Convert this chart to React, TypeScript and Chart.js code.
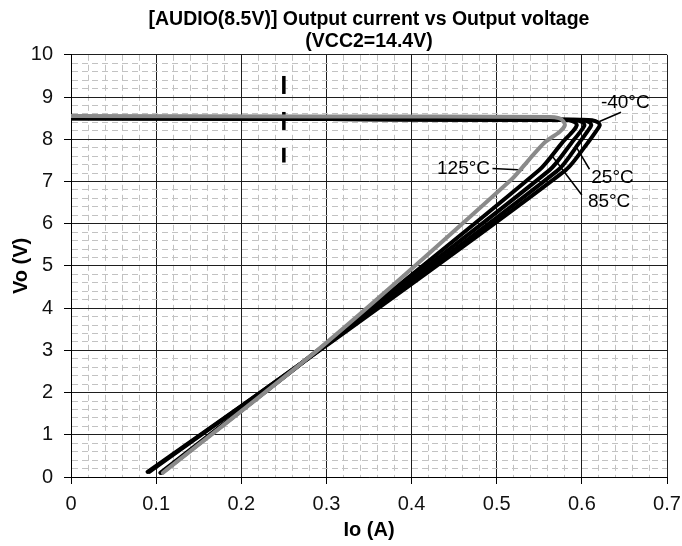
import { useEffect, useRef } from 'react';
import { Chart, registerables } from 'chart.js';

Chart.register(...registerables);

const FONT = '"Liberation Sans", Arial, sans-serif';

const TITLE_LINES = ['[AUDIO(8.5V)] Output current vs Output voltage', '(VCC2=14.4V)'];
const X_TITLE = 'Io (A)';
const Y_TITLE = 'Vo (V)';

const X_MIN = 0;
const X_MAX = 0.7;
const X_MAJOR = 0.1;
const X_MINOR = 0.02;
const Y_MIN = 0;
const Y_MAX = 10;
const Y_MAJOR = 1;
const Y_MINOR = 0.2;

type P = [number, number];

// Io (A), Vo (V)
const curve125: P[] = [
  [0, 8.55], [0.3, 8.54], [0.562, 8.53], [0.573, 8.5], [0.578, 8.43], [0.58, 8.33],
  [0.574, 8.18], [0.556, 7.92], [0.538, 7.52], [0.517, 7.04], [0.297, 3.13], [0.108, 0.1],
];
const curve85: P[] = [
  [0, 8.5], [0.3, 8.48], [0.57, 8.46], [0.585, 8.45], [0.592, 8.4], [0.594, 8.33],
  [0.59, 8.2], [0.577, 7.92], [0.55, 7.27], [0.298, 3.13], [0.107, 0.1],
];
const curveUnlabelled: P[] = [
  [0, 8.5], [0.3, 8.48], [0.58, 8.46], [0.594, 8.45], [0.601, 8.4], [0.603, 8.33],
  [0.599, 8.2], [0.588, 7.92], [0.562, 7.27], [0.299, 3.13], [0.105, 0.1],
];
const curve25: P[] = [
  [0, 8.5], [0.3, 8.48], [0.59, 8.46], [0.602, 8.45], [0.609, 8.4], [0.611, 8.33],
  [0.607, 8.2], [0.597, 7.92], [0.572, 7.27], [0.3, 3.13], [0.092, 0.12],
];
const curveMinus40: P[] = [
  [0, 8.5], [0.3, 8.48], [0.6, 8.46], [0.612, 8.45], [0.619, 8.4], [0.621, 8.33],
  [0.617, 8.2], [0.607, 7.92], [0.581, 7.27], [0.301, 3.13], [0.09, 0.12],
];

// dashed vertical marker
const markerLine: P[] = [[0.25, 9.5], [0.25, 7.45]];

// callouts
const calloutTexts = ['-40°C', '25°C', '85°C', '125°C'];
const calloutPos: P[] = [[0.651, 8.87], [0.636, 7.1], [0.632, 6.53], [0.461, 7.31]];
const leaderMinus40: P[] = [[0.6207, 8.42], [0.646, 8.64]];
const leader25: P[] = [[0.609, 7.29], [0.593, 7.83]];
const leader85: P[] = [[0.6, 6.68], [0.566, 7.58]];
const leader125: P[] = [[0.495, 7.31], [0.531, 7.27]];

const toXY = (pts: P[]) => pts.map(([x, y]) => ({ x, y }));
const isMajor = (v: number, step: number) => Math.abs(v / step - Math.round(v / step)) < 1e-6;

const curveDs = (label: string, pts: P[], color: string) => ({
  label,
  data: toXY(pts),
  borderColor: color,
  borderWidth: 4,
  pointRadius: 0,
  tension: 0.25,
  borderCapStyle: 'round' as const,
  borderJoinStyle: 'round' as const,
  fill: false,
});

const leaderDs = (label: string, pts: P[]) => ({
  label,
  data: toXY(pts),
  borderColor: '#000',
  borderWidth: 1.5,
  pointRadius: 0,
  tension: 0,
  fill: false,
});

const calloutPlugin = {
  id: 'callouts',
  afterDatasetsDraw(chart: any) {
    const { ctx, scales } = chart;
    ctx.save();
    ctx.font = `19px ${FONT}`;
    ctx.fillStyle = '#000';
    ctx.textAlign = 'center';
    ctx.textBaseline = 'middle';
    calloutTexts.forEach((t, i) => {
      const [vx, vy] = calloutPos[i];
      ctx.fillText(t, scales.x.getPixelForValue(vx), scales.y.getPixelForValue(vy));
    });
    ctx.restore();
  },
};

export default function App() {
  const ref = useRef<HTMLCanvasElement | null>(null);

  useEffect(() => {
    if (!ref.current) return;
    const chart = new Chart(ref.current, {
      type: 'line',
      data: {
        datasets: [
          curveDs('125°C', curve125, '#8a8a8a'),
          curveDs('85°C', curve85, '#000'),
          curveDs('(unlabelled)', curveUnlabelled, '#000'),
          curveDs('25°C', curve25, '#000'),
          curveDs('-40°C', curveMinus40, '#000'),
          {
            label: 'marker',
            data: toXY(markerLine),
            borderColor: '#000',
            borderWidth: 3.5,
            borderDash: [18, 18],
            pointRadius: 0,
            fill: false,
          },
          leaderDs('leader -40', leaderMinus40),
          leaderDs('leader 25', leader25),
          leaderDs('leader 85', leader85),
          leaderDs('leader 125', leader125),
        ] as any,
      },
      options: {
        animation: false,
        responsive: true,
        maintainAspectRatio: false,
        layout: { padding: { left: 0, right: 15, top: 0, bottom: 0 } },
        plugins: {
          legend: { display: false },
          tooltip: { enabled: false },
          title: {
            display: true,
            text: TITLE_LINES,
            color: '#000',
            fullSize: false,
            font: { family: FONT, size: 19.5, weight: 'bold', lineHeight: 1.15 },
            padding: { top: 8, bottom: 2 },
          },
        },
        scales: {
          x: {
            type: 'linear',
            min: X_MIN,
            max: X_MAX,
            afterFit: (s: any) => {
              s.height = 69;
              s.paddingLeft = 0;
              s.paddingRight = 0;
            },
            ticks: {
              stepSize: X_MINOR,
              autoSkip: false,
              maxRotation: 0,
              minRotation: 0,
              padding: 8,
              color: '#111',
              font: { family: FONT, size: 20 },
              callback: (v: any) => (isMajor(Number(v), X_MAJOR) ? String(Math.round(Number(v) * 10) / 10) : ''),
            },
            grid: {
              color: (c: any) => (c.tick && isMajor(c.tick.value, X_MAJOR) ? '#1e1e1e' : '#c2c2c2'),
              lineWidth: 1,
              tickLength: 7,
              tickColor: (c: any) => (c.tick && isMajor(c.tick.value, X_MAJOR) ? '#000' : 'rgba(0,0,0,0)'),
            },
            border: {
              display: true,
              color: '#000',
              width: 1,
              dash: (c: any) => (c.tick && !isMajor(c.tick.value, X_MAJOR) ? [6, 4] : []),
            },
            title: {
              display: true,
              text: X_TITLE,
              color: '#000',
              font: { family: FONT, size: 20, weight: 'bold', lineHeight: 1.2 },
              padding: { top: 0, bottom: 4 },
            },
          },
          y: {
            type: 'linear',
            min: Y_MIN,
            max: Y_MAX,
            afterFit: (s: any) => {
              s.width = 71;
              s.paddingTop = 0;
              s.paddingBottom = 0;
            },
            ticks: {
              stepSize: Y_MINOR,
              autoSkip: false,
              padding: 11,
              color: '#111',
              font: { family: FONT, size: 20 },
              callback: (v: any) => (isMajor(Number(v), Y_MAJOR) ? String(Math.round(Number(v))) : ''),
            },
            grid: {
              color: (c: any) => (c.tick && isMajor(c.tick.value, Y_MAJOR) ? '#1e1e1e' : '#c2c2c2'),
              lineWidth: 1,
              tickLength: 7,
              tickColor: (c: any) => (c.tick && isMajor(c.tick.value, Y_MAJOR) ? '#000' : 'rgba(0,0,0,0)'),
            },
            border: {
              display: true,
              color: '#000',
              width: 1,
              dash: (c: any) => (c.tick && !isMajor(c.tick.value, Y_MAJOR) ? [6, 4] : []),
            },
            title: {
              display: true,
              text: Y_TITLE,
              color: '#000',
              font: { family: FONT, size: 20, weight: 'bold', lineHeight: 1.2 },
              padding: { top: 9, bottom: 0 },
            },
          },
        },
      } as any,
      plugins: [calloutPlugin],
    });
    return () => chart.destroy();
  }, []);

  return (
    <div style={{ position: 'absolute', left: 0, top: 0, width: 682, height: 546, background: '#fff' }}>
      <canvas ref={ref} />
    </div>
  );
}
